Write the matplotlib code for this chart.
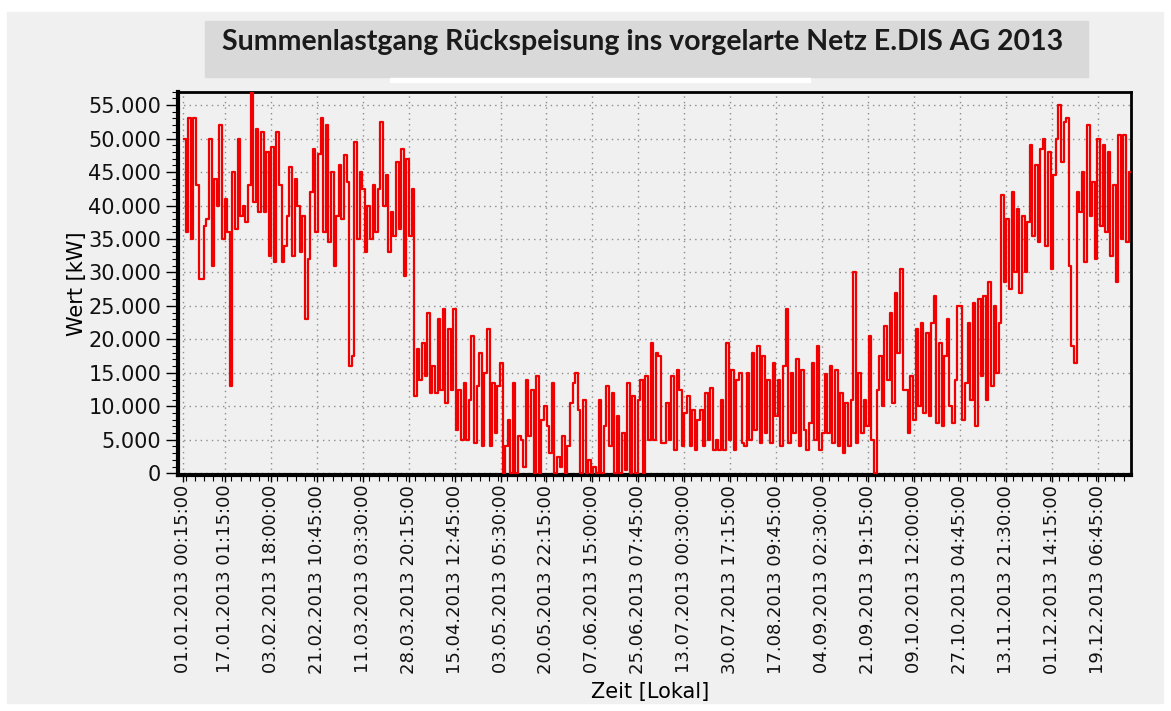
import matplotlib
matplotlib.use("Agg")
import matplotlib.pyplot as plt
import matplotlib.dates as mdates
from matplotlib.patches import Rectangle
from matplotlib.ticker import FixedLocator, FixedFormatter, MultipleLocator, FuncFormatter
import pandas as pd

# Tageswerte (MW), 01.01.2013 - 31.12.2013
leistung_mw = [
    # Jan - Feb
    50, 36, 53, 35, 53, 43, 29, 29, 37, 38,
    50, 31, 44, 40, 52, 35, 41, 36, 13, 45,
    36.5, 50, 38.5, 40, 37.5, 43, 57, 40.5, 51.5, 39,
    51, 39, 48, 32.5, 48.7, 31.5, 51, 43, 31.5, 34,
    38.5, 45.7, 32.5, 44, 40, 33, 38.5, 23, 32, 42,
    48.5, 36, 47.7, 53, 36, 52, 34.5, 45, 31, 38.5,
    # Mar - Apr
    46, 38, 47.5, 43.5, 16, 17.5, 49.5, 35, 45, 42.5,
    33, 40, 35, 43, 36, 42.5, 52.5, 40, 44.5, 33,
    39, 35.5, 46.5, 36.5, 48.5, 29.5, 47, 35.5, 42.5, 11.5,
    18.5, 14, 19.5, 14.5, 24, 12, 16, 12, 23, 12.5,
    24.5, 10.5, 21.5, 12.5, 24.5, 6.5, 12.5, 5, 13.5, 5,
    11, 20.5, 4.5, 13, 18, 4, 15, 21.5, 4, 13.5,
    6, 13,
    # Mai - Jun
    16.5, 0, 4, 8, 0, 13.5, 0, 5.5, 5, 1,
    14, 5.5, 12.5, 0, 14.5, 0, 8, 10, 7, 3,
    13.5, 0, 2.5, 1, 5.5, 0, 4, 10.5, 13.5, 15,
    9.5, 0, 11, 0, 2, 0, 1, 0, 11, 0,
    7, 13, 4, 12, 0, 8.5, 0, 6, 0.5, 13.5,
    0, 11.5, 0, 11, 14, 0, 14.5, 5, 19.5, 5,
    18,
    # Jul - Aug
    17.5, 4.5, 4.5, 10.5, 5, 14.5, 3.5, 15.5, 12.5, 4,
    9, 11.5, 4, 9.5, 3.5, 8, 9.5, 4, 12, 5,
    12.8, 3.5, 5, 3.5, 11, 3.5, 19.5, 5, 15.5, 3.5,
    14, 15, 4.5, 4, 15, 5, 18, 6.5, 19, 4.5,
    17.5, 6, 14, 4.5, 16.5, 8.5, 14, 4, 16, 24.5,
    4.5, 15, 6, 17, 4, 15.5, 6.5, 3.5, 7.5, 16.5,
    5,
    # Sep - Okt
    19, 3.5, 6, 14.8, 6, 16, 4.5, 15.5, 4, 12,
    3, 10.5, 4, 11, 30, 4.5, 15, 6, 11, 7,
    20.5, 5, 0, 12.5, 17.5, 10, 22, 14, 24, 10.5,
    27, 18, 30.5, 12.5, 12.5, 6, 14.5, 8, 21.5, 10,
    22.5, 9, 21, 8.5, 22.5, 26.5, 7.5, 19.5, 7, 17.5,
    23, 10, 7.5, 14, 25, 25, 8, 13.5, 22.5, 11,
    25.5, 7,
    # Nov - Dez
    26, 14.5, 26.5, 11, 28.5, 13, 25, 15, 22.5, 41.5,
    28.5, 38, 27.5, 42, 30, 39.5, 27, 38.5, 30, 37.5,
    49, 35.5, 46, 34.5, 48.5, 50, 34, 48, 30.5, 44.5,
    50, 55, 46.5, 52.5, 53, 31, 19, 16.5, 42, 39,
    45, 31.5, 52, 38.5, 43.5, 32, 50, 37, 49, 36,
    48, 32.5, 43, 28.5, 50.5, 35, 50.5, 34.5, 45,
]

tage = pd.date_range("2013-01-01 12:00", periods=len(leistung_mw), freq="D")

xtick_labels = [
    "01.01.2013 00:15:00", "17.01.2013 01:15:00", "03.02.2013 18:00:00",
    "21.02.2013 10:45:00", "11.03.2013 03:30:00", "28.03.2013 20:15:00",
    "15.04.2013 12:45:00", "03.05.2013 05:30:00", "20.05.2013 22:15:00",
    "07.06.2013 15:00:00", "25.06.2013 07:45:00", "13.07.2013 00:30:00",
    "30.07.2013 17:15:00", "17.08.2013 09:45:00", "04.09.2013 02:30:00",
    "21.09.2013 19:15:00", "09.10.2013 12:00:00", "27.10.2013 04:45:00",
    "13.11.2013 21:30:00", "01.12.2013 14:15:00", "19.12.2013 06:45:00",
]
yticks = list(range(0, 55001, 5000))

title = "Summenlastgang Rückspeisung ins vorgelarte Netz E.DIS AG 2013"

fig = plt.figure(figsize=(11.71, 7.11), dpi=100, facecolor="white")
bg = "#f0f0f0"

# Hintergrund, Titelkasten
fig.patches.append(Rectangle((7 / 1171, 8 / 711), 1156 / 1171, 691 / 711,
                             transform=fig.transFigure, color=bg, zorder=-10))
fig.patches.append(Rectangle((205 / 1171, 1 - 77 / 711), 883 / 1171, 56 / 711,
                             transform=fig.transFigure, color="#d9d9d9", zorder=-9))
fig.patches.append(Rectangle((390 / 1171, 1 - 82 / 711), 420 / 1171, 4 / 711,
                             transform=fig.transFigure, color="white", zorder=-9))
fig.text(0.549, 0.941, title, ha="center", va="center", fontsize=20.5,
         fontweight="bold", family="Lato", color="#1a1a1a")

ax = fig.add_axes([0.152, 0.332, 0.814, 0.539])
ax.set_facecolor(bg)

werte_kw = [v * 1000 for v in leistung_mw]
ax.plot(tage, werte_kw, color="#f00000", linewidth=1.6, drawstyle="steps-mid", zorder=3)

ax.set_xlim(pd.Timestamp("2012-12-30 02:00"), pd.Timestamp("2014-01-01 00:00"))
ax.set_ylim(-250, 57000)

xpos = mdates.date2num(pd.to_datetime(xtick_labels, format="%d.%m.%Y %H:%M:%S"))
ax.xaxis.set_major_locator(FixedLocator(xpos))
ax.xaxis.set_major_formatter(FixedFormatter(xtick_labels))
ax.xaxis.set_minor_locator(MultipleLocator(3.54))
ax.set_yticks(yticks)
ax.yaxis.set_major_formatter(FuncFormatter(lambda v, p: f"{v:,.0f}".replace(",", ".")))
ax.yaxis.set_minor_locator(MultipleLocator(1000))

ax.tick_params(axis="x", which="major", labelsize=13, rotation=90, length=5, width=1, pad=2)
ax.tick_params(axis="y", which="major", labelsize=15, length=9, width=1, pad=3)
ax.tick_params(which="minor", length=4, width=0.8)
for lab in ax.get_xticklabels() + ax.get_yticklabels():
    lab.set_family("DejaVu Sans")
    lab.set_color("#111111")

ax.grid(True, which="major", color="#8c8c8c", linestyle=(0, (1, 3)), linewidth=1)

for s in ["left", "bottom"]:
    ax.spines[s].set_linewidth(3)
for s in ["top", "right"]:
    ax.spines[s].set_linewidth(2)

ax.set_xlabel("Zeit [Lokal]", fontsize=15, family="DejaVu Sans")
ax.xaxis.set_label_coords(0.495, -0.54)
ax.set_ylabel("Wert [kW]", fontsize=15, family="DejaVu Sans")
ax.yaxis.set_label_coords(-0.095, 0.5)

fig.savefig("out.png", dpi=100, facecolor="white")
